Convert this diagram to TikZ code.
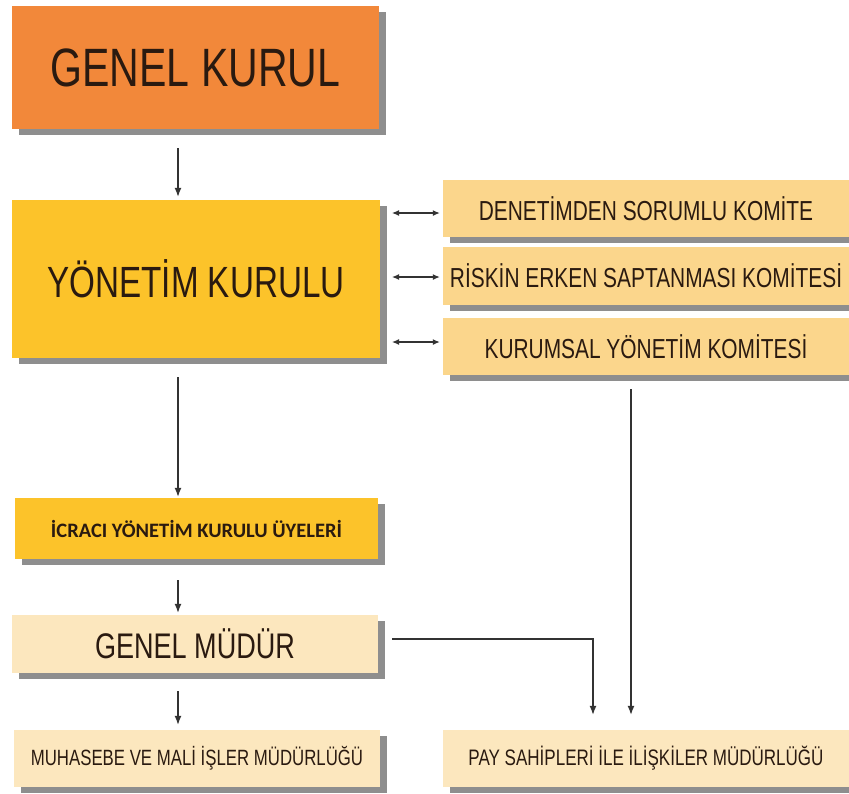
\documentclass[tikz,border=0pt]{standalone}
\usepackage{fontspec}
\setmainfont{Liberation Sans}[FakeStretch=0.76]
\newfontfamily\calfont{Carlito}
\usetikzlibrary{arrows.meta,shadows}
\definecolor{cOrange}{HTML}{F2883A}
\definecolor{cYellow}{HTML}{FCC32A}
\definecolor{cComm}{HTML}{FBD68C}
\definecolor{cPale}{HTML}{FCE7BE}
\definecolor{cShadow}{HTML}{8E8E8E}
\definecolor{cText}{HTML}{2A1A10}
\definecolor{cLine}{HTML}{333333}
\begin{document}
\begin{tikzpicture}[x=1pt,y=-1pt,
  box/.style={rectangle, inner sep=0pt, text=cText, anchor=center,
    drop shadow={shadow xshift=7pt, shadow yshift=-6pt, fill=cShadow, opacity=1}},
  arr/.style={draw=cLine, line width=1.3pt, -{Latex[length=9pt,width=7pt]}},
  dbl/.style={draw=cLine, line width=1.2pt, {Latex[length=7pt,width=6pt]}-{Latex[length=7pt,width=6pt]}}]
\useasboundingbox[fill=white] (0,0) rectangle (849,793);
\node[box, fill=cOrange, minimum width=367pt, minimum height=123pt, font=\fontsize{54}{54}\selectfont] (gk) at (195.5,67.5) {GENEL KURUL};
\node[box, fill=cYellow, minimum width=368pt, minimum height=158pt, font=\fontsize{43.7}{43.7}\selectfont] (yk) at (196,279) {YÖNETİM KURULU};
\node[box, fill=cComm, minimum width=406pt, minimum height=57pt, font=\fontsize{27.5}{27.5}\selectfont] (c1) at (646,208.5) {DENETİMDEN SORUMLU KOMİTE};
\node[box, fill=cComm, minimum width=406pt, minimum height=58pt, font=\fontsize{27.5}{27.5}\selectfont] (c2) at (646,276) {RİSKİN ERKEN SAPTANMASI KOMİTESİ};
\node[box, fill=cComm, minimum width=406pt, minimum height=57pt, font=\fontsize{27.5}{27.5}\selectfont] (c3) at (646,346.5) {KURUMSAL YÖNETİM KOMİTESİ};
\node[box, fill=cYellow, minimum width=363pt, minimum height=61pt, font=\calfont\bfseries\fontsize{20.5}{20.5}\selectfont] (ic) at (196.5,528.5) {İCRACI YÖNETİM KURULU ÜYELERİ};
\node[box, fill=cPale, minimum width=366pt, minimum height=58pt, font=\fontsize{35.6}{35.6}\selectfont] (gm) at (195,644) {GENEL MÜDÜR};
\node[box, fill=cPale, minimum width=366pt, minimum height=57pt, font=\fontsize{22.1}{22.1}\selectfont] (mu) at (197,758.5) {MUHASEBE VE MALİ İŞLER MÜDÜRLÜĞÜ};
\node[box, fill=cPale, minimum width=406pt, minimum height=57pt, font=\fontsize{22.4}{22.4}\selectfont] (ps) at (646,758.5) {PAY SAHİPLERİ İLE İLİŞKİLER MÜDÜRLÜĞÜ};
\coordinate (ax) at (178,0);
\coordinate (bx) at (593,0);
\coordinate (cx) at (631,0);
\draw[arr, shorten <=19pt, shorten >=3pt] (ax |- gk.south) -- (ax |- yk.north);
\draw[arr, shorten <=19pt, shorten >=1pt] (ax |- yk.south) -- (ax |- ic.north);
\draw[arr, shorten <=21pt, shorten >=2pt] (ax |- ic.south) -- (ax |- gm.north);
\draw[arr, shorten <=18pt, shorten >=5pt] (ax |- gm.south) -- (ax |- mu.north);
\foreach \c/\yy in {c1/213,c2/277,c3/342}{
  \draw[dbl] (392,\yy) -- ([xshift=-3pt]\c.west |- 0,\yy);
}
\draw[arr, shorten >=15pt] ([xshift=14pt,yshift=5pt]gm.east) -| (bx |- ps.north);
\draw[arr, shorten <=14pt, shorten >=15pt] (cx |- c3.south) -- (cx |- ps.north);
\end{tikzpicture}
\end{document}
